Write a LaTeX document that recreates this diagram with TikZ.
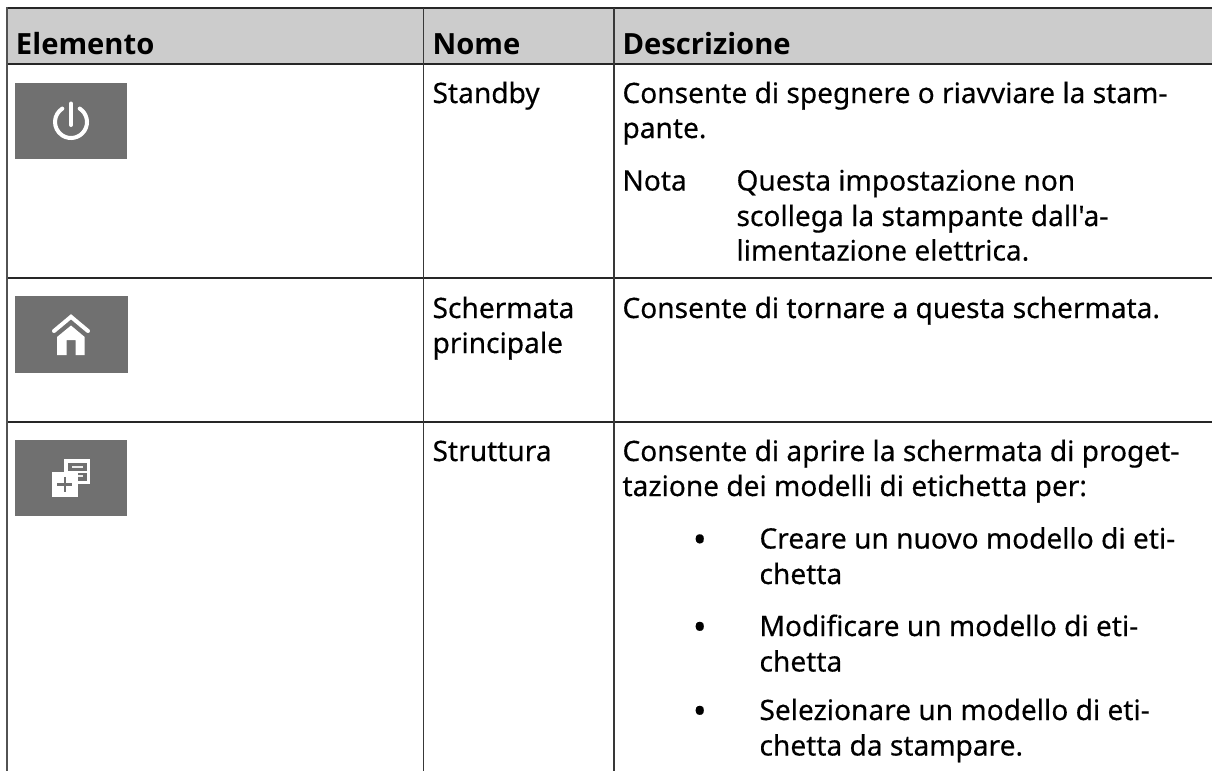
\documentclass[tikz,border=0pt]{standalone}
\usepackage{fontspec}
\newfontfamily\bodyfont{Noto Sans}[FakeBold=0.35]
\newfontfamily\headfont{Open Sans}
\definecolor{iconbg}{HTML}{707070}
\definecolor{headbg}{HTML}{CCCCCC}
\tikzset{
  txt/.style={anchor=base west,inner sep=0pt,outer sep=0pt,font=\bodyfont\fontsize{28.1}{32}\selectfont,text=black},
  hd/.style={txt,font=\headfont\fontsize{29.2}{32}\selectfont\bfseries,text=black},
  dot/.style={txt,font=\bodyfont\fontsize{36}{32}\selectfont},
  rowrule/.style={line width=1.6pt,draw=black!85},
  colrule/.style={line width=1.5pt,draw=black!78},
  edgerule/.style={line width=2.4pt,draw=black!68},
  iconbox/.style={fill=iconbg,draw=none},
  glyph/.style={draw=white,line width=4pt,line cap=round},
  thin glyph/.style={draw=white!88!iconbg,line width=1.8pt},
}
\begin{document}
\begin{tikzpicture}[x=1pt,y=-1pt]
\useasboundingbox (0,0) rectangle (1212,771);
% header band
\fill[headbg] (7,8) rectangle (1212,64);
% table rules
\draw[rowrule] (6,8) -- (1212,8);
\draw[rowrule] (6,64) -- (1212,64);
\draw[rowrule] (6,278) -- (1212,278);
\draw[rowrule] (6,422) -- (1212,422);
\draw[edgerule] (7,7) -- (7,771);
\draw[colrule] (423.7,8) -- (423.7,771);
\draw[colrule] (614,8) -- (614,771);
% icon: power
\fill[iconbox] (15,83) rectangle (127,159);
\draw[glyph] (71,122) ++(-57:16) arc[start angle=-57,end angle=237,radius=16];
\draw[glyph] (71,103.5) -- (71,125);
% icon: home
\fill[iconbox] (15,296) rectangle (128,373);
\draw[glyph] (54,331) -- (71,316.8) -- (88,331);
\fill[white] (71,325.5) -- (84.7,337) -- (84.7,355) -- (75.7,355) -- (75.7,340) -- (66.7,340) -- (66.7,355) -- (57,355) -- (57,337) -- cycle;
% icon: structure
\fill[iconbox] (15,440) rectangle (127,516);
\fill[white] (64.3,458.7) rectangle (90.3,484.3);
\fill[iconbg] (68,462.5) rectangle (87,481);
\draw[thin glyph] (72,467) -- (83,467);
\draw[white,line width=1.6pt] (68,471.7) -- (87,471.7);
\draw[thin glyph] (76,476) -- (83,476);
\fill[white] (51.7,471.7) rectangle (77.7,497.3);
\draw[iconbg,line width=2.4pt] (57.3,484.3) -- (72.3,484.3) (64.8,476.8) -- (64.8,491.8);
% header text
\node[hd] (hElemento) at (16,54.5) {Elemento};
\node[hd] (hNome) at (432.6,54.5) {Nome};
\node[hd] (hDescr) at (622.5,54.5) {Descrizione};
% row 1
\node[txt] (nStandby) at (432.6,103) {Standby};
\node[txt] (d1a) at (622.5,103) {Consente di spegnere o riavviare la stam-};
\node[txt] (d1b) at (622.5,138) {pante.};
\node[txt] (nota) at (622.5,190.5) {Nota};
\node[txt] (n1) at (736.5,190.5) {Questa impostazione non};
\node[txt] (n2) at (736.5,226) {scollega la stampante dall'a-};
\node[txt] (n3) at (736.5,260.5) {limentazione elettrica.};
% row 2
\node[txt] (nSch) at (432.6,318) {Schermata};
\node[txt] (nPri) at (432.6,353) {principale};
\node[txt] (d2) at (622.5,318) {Consente di tornare a questa schermata.};
% row 3
\node[txt] (nStr) at (432.6,461) {Struttura};
\node[txt] (d3a) at (622.5,461) {Consente di aprire la schermata di proget-};
\node[txt] (d3b) at (622.5,496) {tazione dei modelli di etichetta per:};
\node[dot] (b1) at (693,552) {•};
\node[txt] (l1a) at (759.5,548.5) {Creare un nuovo modello di eti-};
\node[txt] (l1b) at (759.5,584) {chetta};
\node[dot] (b2) at (693,639.5) {•};
\node[txt] (l2a) at (759.5,636) {Modificare un modello di eti-};
\node[txt] (l2b) at (759.5,671.5) {chetta};
\node[dot] (b3) at (693,723.5) {•};
\node[txt] (l3a) at (759.5,720) {Selezionare un modello di eti-};
\node[txt] (l3b) at (759.5,755.5) {chetta da stampare.};
\end{tikzpicture}
\end{document}
